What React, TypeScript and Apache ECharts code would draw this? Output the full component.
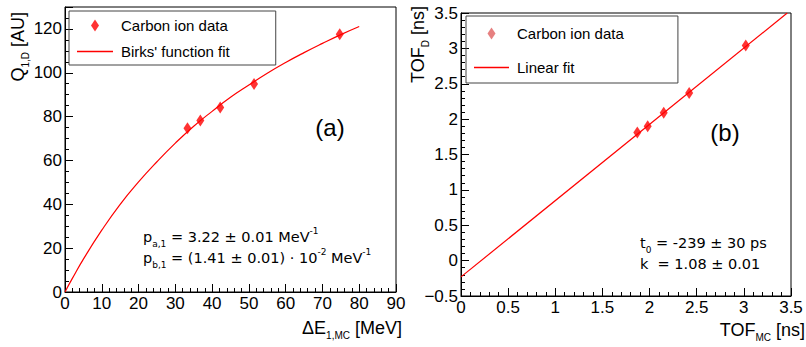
import React, { useEffect, useRef } from "react";
import * as echarts from "echarts";

// ---- data ----
const dataE = [33.3, 36.8, 42.2, 51.4, 74.7];
const dataQ = [74.7, 78.2, 84.2, 94.9, 117.6];
const fitE = [0, 2, 5, 10, 15, 20, 25, 30, 35, 40, 45, 50, 55, 60, 65, 70, 75, 80];
const fitQ = [0, 6.2, 15.0, 28.2, 40.0, 50.2, 59.4, 67.9, 75.6, 82.4, 88.8, 94.4, 99.8, 104.7, 109.2, 113.4, 117.4, 121.1];
const tofMC = [1.87, 1.98, 2.15, 2.42, 3.02];
const tofD = [1.81, 1.9, 2.09, 2.37, 3.04];
const linX = [0, 3.46];
const linY = [-0.23, 3.5];

const FONT = "Liberation Sans, Arial, Helvetica, sans-serif";
const AFONT = "DejaVu Sans, sans-serif";
const RED = "#ff0000";
const DIAMOND = "path://M4,0L8,6L4,12L0,6Z";
const LINEICON = "path://M0,0L36,0L36,1.3L0,1.3Z";
const TICKFS = 17;

const minus = (v: number) => String(v).replace("-", "\u2212");

function axisCommon(fmt?: (v: number) => string) {
  return {
    type: "value" as const,
    axisLine: { show: true, onZero: false, lineStyle: { color: "#000", width: 1 } },
    axisTick: { show: true, inside: true, length: 8, lineStyle: { color: "#000" } },
    minorTick: { show: true, splitNumber: 5, length: 4, lineStyle: { color: "#000" } },
    splitLine: { show: false },
    axisLabel: {
      color: "#000",
      fontSize: TICKFS,
      fontFamily: FONT,
      margin: 3,
      formatter: fmt,
    },
  };
}

export default function App() {
  const ref = useRef<HTMLDivElement>(null);
  useEffect(() => {
    if (!ref.current) return;
    const chart = echarts.init(ref.current, undefined, { renderer: "svg" });

    const sub = { fontSize: 10, fontFamily: FONT, fill: "#000", verticalAlign: "bottom", lineHeight: 10 };
    const m18 = { fontSize: 18, fontFamily: FONT, fill: "#000", lineHeight: 25 };
    const am = { fontSize: 14.5, fontFamily: AFONT, fill: "#000", lineHeight: 22 };
    const as = { fontSize: 9, fontFamily: AFONT, fill: "#000", verticalAlign: "bottom", lineHeight: 9 };
    const ap = { fontSize: 9, fontFamily: AFONT, fill: "#000", verticalAlign: "top", lineHeight: 13 };

    chart.setOption({
      animation: false,
      grid: [
        { left: 65, top: 7, width: 331, height: 285, show: true, borderColor: "#000", borderWidth: 1, backgroundColor: "transparent" },
        { left: 461, top: 13, width: 330, height: 283, show: true, borderColor: "#000", borderWidth: 1, backgroundColor: "transparent" },
      ],
      xAxis: [
        { ...axisCommon(), gridIndex: 0, min: 0, max: 90, interval: 10 },
        { ...axisCommon(minus), gridIndex: 1, min: 0, max: 3.5, interval: 0.5 },
      ],
      yAxis: [
        {
          ...axisCommon(),
          gridIndex: 0, min: 0, max: 130, interval: 20,
          minorTick: { show: true, splitNumber: 4, length: 4, lineStyle: { color: "#000" } },
          axisLabel: { color: "#000", fontSize: TICKFS, fontFamily: FONT, margin: 3, formatter: (v: number) => (v === 130 ? "" : String(v)) },
        },
        {
          ...axisCommon(minus),
          gridIndex: 1, min: -0.5, max: 3.5, interval: 0.5,
          axisLabel: { color: "#000", fontSize: TICKFS, fontFamily: FONT, margin: 3, formatter: minus },
        },
      ],
      legend: [
        {
          orient: "vertical",
          left: 69,
          top: 11,
          padding: [7, 46, 6, 8],
          itemGap: 11,
          itemWidth: 36,
          itemHeight: 12,
          borderColor: "#444",
          borderWidth: 1,
          borderRadius: 0,
          textStyle: { color: "#000", fontSize: 15, fontFamily: FONT, padding: [0, 0, 0, 3] },
          data: [
            { name: "Carbon ion data", icon: DIAMOND, itemStyle: { color: RED } },
            { name: "Birks' function fit", icon: LINEICON, itemStyle: { color: RED } },
          ],
        },
        {
          orient: "vertical",
          left: 466,
          top: 16,
          padding: [10, 50, 8, 8],
          itemGap: 19,
          itemWidth: 35,
          itemHeight: 12,
          borderColor: "#444",
          borderWidth: 1,
          borderRadius: 0,
          textStyle: { color: "#000", fontSize: 15, fontFamily: FONT, padding: [0, 0, 0, 3] },
          data: [
            { name: "Carbon ion data ", icon: DIAMOND, itemStyle: { color: "#e06060" } },
            { name: "Linear fit", icon: LINEICON, itemStyle: { color: RED } },
          ],
        },
      ],
      series: [
        {
          type: "line",
          name: "Birks' function fit",
          xAxisIndex: 0,
          yAxisIndex: 0,
          data: fitE.map((x, i) => [x, fitQ[i]]),
          symbol: "none",
          smooth: true,
          lineStyle: { color: RED, width: 1.2 },
          itemStyle: { color: RED },
          z: 2,
        },
        {
          type: "scatter",
          name: "Carbon ion data",
          xAxisIndex: 0,
          yAxisIndex: 0,
          data: dataE.map((x, i) => [x, dataQ[i]]),
          symbol: "diamond",
          symbolSize: [8, 12],
          itemStyle: { color: RED },
          z: 3,
        },
        {
          type: "line",
          name: "Linear fit",
          xAxisIndex: 1,
          yAxisIndex: 1,
          data: linX.map((x, i) => [x, linY[i]]),
          symbol: "none",
          lineStyle: { color: RED, width: 1.2 },
          itemStyle: { color: RED },
          z: 2,
        },
        {
          type: "scatter",
          name: "Carbon ion data ",
          xAxisIndex: 1,
          yAxisIndex: 1,
          data: tofMC.map((x, i) => [x, tofD[i]]),
          symbol: "diamond",
          symbolSize: [8, 12],
          itemStyle: { color: RED },
          z: 3,
        },
      ],
      graphic: [
        // panel labels
        { type: "text", x: 330, y: 127, style: { text: "(a)", fontSize: 24, fontFamily: FONT, fill: "#000", align: "center", verticalAlign: "middle" } },
        { type: "text", x: 725, y: 132, style: { text: "(b)", fontSize: 24, fontFamily: FONT, fill: "#000", align: "center", verticalAlign: "middle" } },
        // axis titles
        {
          type: "text", x: 18, y: 12, rotation: Math.PI / 2,
          style: { text: "{m|Q}{s|1,D}{m| [AU]}", rich: { m: m18, s: sub }, align: "right", verticalAlign: "middle" },
        },
        {
          type: "text", x: 418, y: 6, rotation: Math.PI / 2,
          style: { text: "{m|TOF}{s|D}{m| [ns]}", rich: { m: m18, s: sub }, align: "right", verticalAlign: "middle" },
        },
        {
          type: "text", x: 402, y: 328,
          style: { text: "{m|\u0394E}{s|1,MC}{m| [MeV]}", rich: { m: m18, s: sub }, align: "right", verticalAlign: "middle" },
        },
        {
          type: "text", x: 805, y: 330,
          style: { text: "{m|TOF}{s|MC}{m| [ns]}", rich: { m: m18, s: sub }, align: "right", verticalAlign: "middle" },
        },
        // fit annotations
        {
          type: "text", x: 143, y: 237,
          style: { text: "{m|p}{s|a,1}{m| = 3.22 \u00b1 0.01 MeV}{p|-1}", rich: { m: am, s: as, p: ap }, align: "left", verticalAlign: "middle" },
        },
        {
          type: "text", x: 143, y: 258,
          style: { text: "{m|p}{s|b,1}{m| = (1.41 \u00b1 0.01) \u00b7 10}{p|-2}{m| MeV}{p|-1}", rich: { m: am, s: as, p: ap }, align: "left", verticalAlign: "middle" },
        },
        {
          type: "text", x: 640, y: 243,
          style: { text: "{m|t}{s|0}{m| = -239 \u00b1 30 ps}", rich: { m: am, s: as }, align: "left", verticalAlign: "middle" },
        },
        {
          type: "text", x: 640, y: 264,
          style: { text: "{m|k  = 1.08 \u00b1 0.01}", rich: { m: am }, align: "left", verticalAlign: "middle" },
        },
      ],
    });
    return () => chart.dispose();
  }, []);
  return (
    <div
      ref={ref}
      style={{ position: "fixed", left: 0, top: 0, width: 806, height: 347, background: "#fff" }}
    />
  );
}
